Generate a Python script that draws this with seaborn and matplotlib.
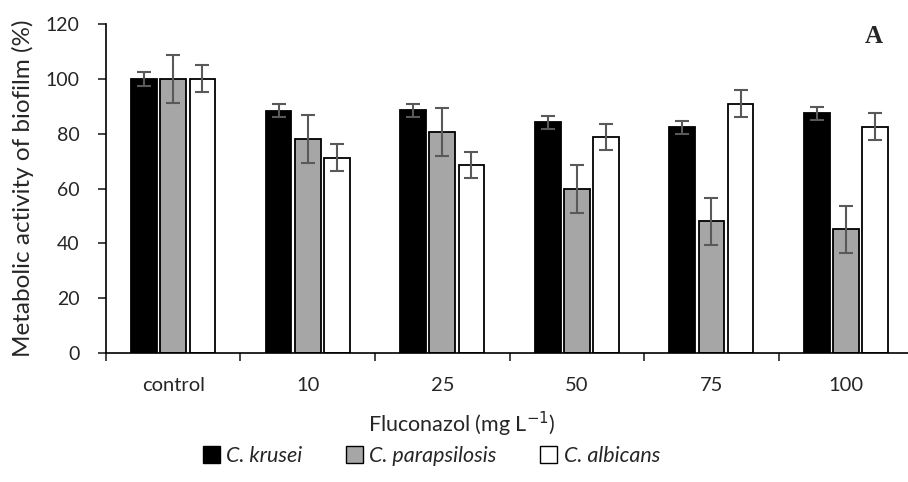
#Biofilm metabolic activity under fluconazol
import numpy as np
import pandas as pd
import matplotlib
matplotlib.use('Agg')
import matplotlib.pyplot as plt
import seaborn as sns

doses = ['control', '10', '25', '50', '75', '100']
species = ['C. krusei', 'C. parapsilosis', 'C. albicans']

krusei = [100, 88.4, 88.6, 84.1, 82.4, 87.4]
krusei_err = [2.6, 2.5, 2.4, 2.4, 2.4, 2.4]
parapsilosis = [100, 78.0, 80.5, 59.9, 48.1, 45.1]
parapsilosis_err = [8.7, 8.8, 8.7, 8.8, 8.6, 8.5]
albicans = [100, 71.2, 68.6, 78.8, 90.9, 82.5]
albicans_err = [4.9, 4.9, 4.7, 4.9, 5.0, 4.9]

colors = ['black', '#a6a6a6', 'white']

#long format table for seaborn
df = pd.DataFrame({
    'dose': doses * 3,
    'species': np.repeat(species, len(doses)),
    'value': krusei + parapsilosis + albicans,
    'err': krusei_err + parapsilosis_err + albicans_err,
})

sns.set_style('white')
plt.rcParams['font.family'] = ['Lato', 'DejaVu Sans']

fig = plt.figure(figsize=(9.08, 4.82), dpi=100)
ax = fig.add_axes([0.1167, 0.2676, 0.889, 0.6826])

sns.barplot(data=df, x='dose', y='value', hue='species', order=doses, hue_order=species,
            palette=colors, edgecolor='black', linewidth=1.3, width=0.65, gap=0.12,
            errorbar=None, legend=False, ax=ax)

#error bars placed on the bar centres
for i, sp in enumerate(species):
    sub = df[df['species'] == sp]
    bars = ax.patches[i * len(doses):(i + 1) * len(doses)]
    xs = [b.get_x() + b.get_width() / 2 for b in bars]
    ax.errorbar(xs, sub['value'], yerr=sub['err'], fmt='none', ecolor='#595959',
                elinewidth=1.5, capsize=5, capthick=1.5, zorder=5)

ax.set_ylim(0, 120)
ax.set_yticks(np.arange(0, 121, 20))
ax.set_xlim(-0.5, 5.5)
ax.set_xticks(np.arange(-0.5, 5.6, 1), minor=False)
ax.set_xticklabels([''] * 7)
ax.set_xticks(np.arange(6), minor=True)
ax.set_xticklabels(doses, minor=True)
ax.tick_params(axis='x', which='major', length=6, width=1.2, direction='out', bottom=True)
ax.tick_params(axis='x', which='minor', length=0, labelsize=14.5, pad=17)
ax.tick_params(axis='y', length=6, width=1.2, direction='out', left=True, labelsize=14, pad=13)

for s in ['top', 'right']:
    ax.spines[s].set_visible(False)
for s in ['left', 'bottom']:
    ax.spines[s].set_color('black')
    ax.spines[s].set_linewidth(1.2)

ax.set_xlabel('Fluconazol (mg L$^{\u22121}$)', fontsize=15.5)
ax.xaxis.set_label_coords(0.441, -0.172)
ax.set_ylabel('Metabolic activity of biofilm (%)', fontsize=17.5, labelpad=8)
ax.text(0.962, 0.925, 'A', transform=fig.transFigure, fontsize=18, fontweight='bold',
        family='Liberation Serif', ha='center', va='center')

handles = [plt.Rectangle((0, 0), 1, 1, facecolor=c, edgecolor='black', linewidth=1) for c in colors]
fig.legend(handles, species, loc='center', bbox_to_anchor=(0.475, 0.054), ncol=3, frameon=False,
           handlelength=0.8, handleheight=0.8, handletextpad=0.3, columnspacing=2.0,
           prop={'size': 15.5, 'style': 'italic'})

fig.savefig('out.png', dpi=100)
